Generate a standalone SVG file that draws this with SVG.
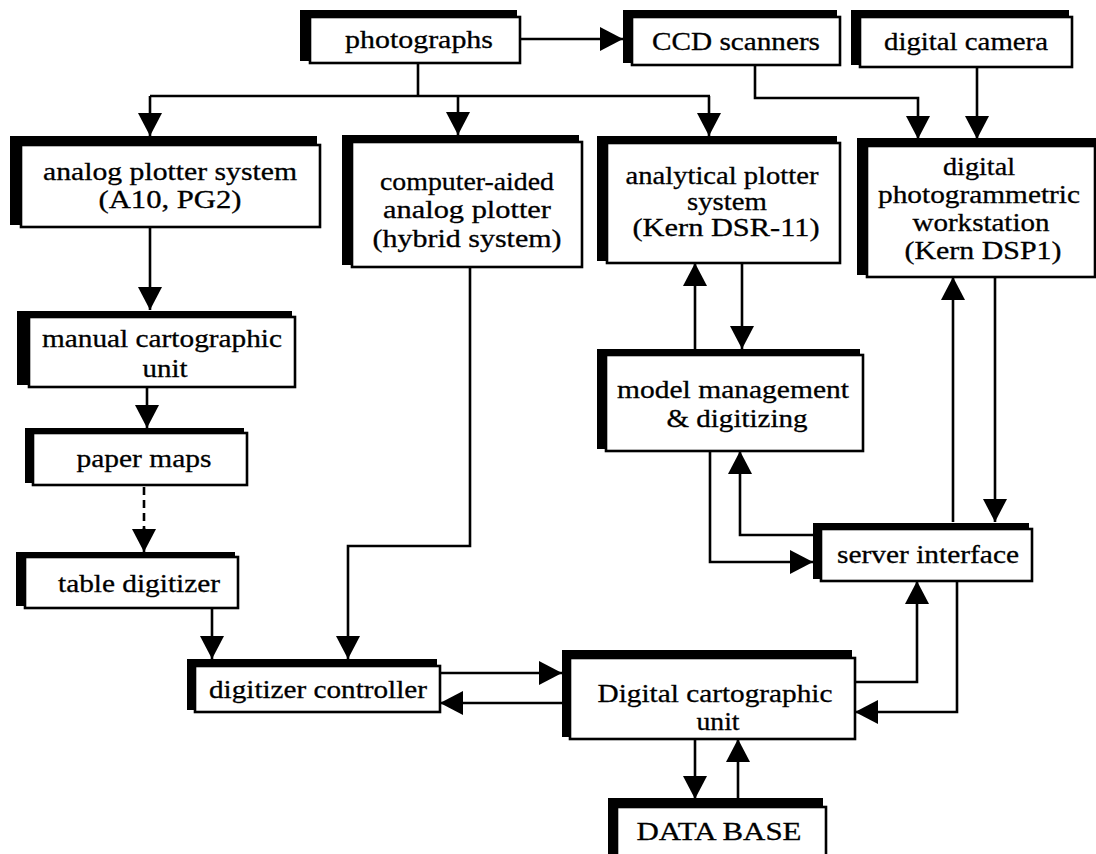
<svg xmlns="http://www.w3.org/2000/svg" width="1096" height="854" viewBox="0 0 1096 854">
  <defs>
    <style>
      .shadow { fill: #000; }
      .box { fill: #fff; stroke: #000; stroke-width: 2.6; }
      .lbl { font-family: "Liberation Serif", "Times New Roman", serif; font-size: 25px; fill: #000; stroke: #000; stroke-width: 0.3; text-anchor: middle; }
      .wire { fill: none; stroke: #000; stroke-width: 2.6; }
      .arrow { marker-end: url(#head); }
      .dash { stroke-dasharray: 8 5; }
    </style>
    <marker id="head" viewBox="0 0 23 24" refX="23" refY="12" markerWidth="23" markerHeight="24" markerUnits="userSpaceOnUse" orient="auto">
      <path d="M0,0 L23,12 L0,24 Z" fill="#000"/>
    </marker>
  </defs>
  <rect width="1096" height="854" fill="#fff"/>

  <!-- connectors -->
  <g id="connectors">
    <path class="wire arrow" d="M520,39 H623"/>
    <path class="wire" d="M418,63 V96 M150,96 H710"/>
    <path class="wire arrow" d="M150,96 V136"/>
    <path class="wire arrow" d="M458,96 V135"/>
    <path class="wire arrow" d="M709,96 V136"/>
    <path class="wire arrow" d="M755,65 V98 H918 V139"/>
    <path class="wire arrow" d="M977,67 V139"/>
    <path class="wire arrow" d="M150,227 V310"/>
    <path class="wire arrow" d="M147,387 V428"/>
    <path class="wire dash" d="M144,487 V530"/>
    <path class="wire arrow" d="M144,528 V552"/>
    <path class="wire arrow" d="M212,608 V659"/>
    <path class="wire arrow" d="M470,267 V546 H348 V659"/>
    <path class="wire arrow" d="M440,673 H562"/>
    <path class="wire arrow" d="M570,703 H440"/>
    <path class="wire arrow" d="M695,349 V263"/>
    <path class="wire arrow" d="M742,263 V349"/>
    <path class="wire arrow" d="M953,522 V277"/>
    <path class="wire arrow" d="M995,277 V522"/>
    <path class="wire arrow" d="M710,451 V562 H813"/>
    <path class="wire arrow" d="M813,535 H740 V451"/>
    <path class="wire arrow" d="M855,682 H917 V581"/>
    <path class="wire arrow" d="M957,581 V712 H855"/>
    <path class="wire arrow" d="M695,739 V799"/>
    <path class="wire arrow" d="M738,799 V739"/>
  </g>

  <g id="photographs">
    <rect class="shadow" x="300" y="10" width="217" height="51"/>
    <rect class="box" x="310" y="17" width="210" height="46"/>
    <text class="lbl" x="419" y="48" textLength="148" lengthAdjust="spacingAndGlyphs">photographs</text>
  </g>
  <g id="ccd-scanners">
    <rect class="shadow" x="623" y="10" width="214" height="53"/>
    <rect class="box" x="632" y="17" width="208" height="48"/>
    <text class="lbl" x="736" y="50" textLength="168" lengthAdjust="spacingAndGlyphs">CCD scanners</text>
  </g>
  <g id="digital-camera">
    <rect class="shadow" x="851" y="10" width="218" height="55"/>
    <rect class="box" x="860" y="17" width="212" height="50"/>
    <text class="lbl" x="966" y="50" textLength="164" lengthAdjust="spacingAndGlyphs">digital camera</text>
  </g>
  <g id="analog-plotter">
    <rect class="shadow" x="10" y="136" width="307" height="89"/>
    <rect class="box" x="21" y="145" width="299" height="82"/>
    <text class="lbl" x="170" y="180" textLength="254" lengthAdjust="spacingAndGlyphs">analog plotter system</text>
    <text class="lbl" x="170" y="208" textLength="143" lengthAdjust="spacingAndGlyphs">(A10, PG2)</text>
  </g>
  <g id="computer-aided">
    <rect class="shadow" x="342" y="135" width="237" height="130"/>
    <rect class="box" x="352" y="142" width="230" height="125"/>
    <text class="lbl" x="467" y="190" textLength="174" lengthAdjust="spacingAndGlyphs">computer-aided</text>
    <text class="lbl" x="467" y="218" textLength="168" lengthAdjust="spacingAndGlyphs">analog plotter</text>
    <text class="lbl" x="467" y="247" textLength="189" lengthAdjust="spacingAndGlyphs">(hybrid system)</text>
  </g>
  <g id="analytical-plotter">
    <rect class="shadow" x="597" y="136" width="240" height="125"/>
    <rect class="box" x="607" y="143" width="233" height="120"/>
    <text class="lbl" x="722" y="184" textLength="193" lengthAdjust="spacingAndGlyphs">analytical plotter</text>
    <text class="lbl" x="727" y="210" textLength="80" lengthAdjust="spacingAndGlyphs">system</text>
    <text class="lbl" x="726" y="236" textLength="187" lengthAdjust="spacingAndGlyphs">(Kern DSR-11)</text>
  </g>
  <g id="photogrammetric-workstation">
    <rect class="shadow" x="857" y="138" width="239" height="137"/>
    <rect class="box" x="867" y="146" width="228" height="131"/>
    <text class="lbl" x="979" y="175" textLength="72" lengthAdjust="spacingAndGlyphs">digital</text>
    <text class="lbl" x="979" y="203" textLength="202" lengthAdjust="spacingAndGlyphs">photogrammetric</text>
    <text class="lbl" x="981" y="231" textLength="137" lengthAdjust="spacingAndGlyphs">workstation</text>
    <text class="lbl" x="983" y="259" textLength="157" lengthAdjust="spacingAndGlyphs">(Kern DSP1)</text>
  </g>
  <g id="manual-cartographic">
    <rect class="shadow" x="17" y="311" width="275" height="74"/>
    <rect class="box" x="29" y="317" width="266" height="70"/>
    <text class="lbl" x="162" y="347" textLength="240" lengthAdjust="spacingAndGlyphs">manual cartographic</text>
    <text class="lbl" x="165" y="377" textLength="45" lengthAdjust="spacingAndGlyphs">unit</text>
  </g>
  <g id="paper-maps">
    <rect class="shadow" x="25" y="428" width="219" height="55"/>
    <rect class="box" x="33" y="433" width="214" height="52"/>
    <text class="lbl" x="144" y="467" textLength="135" lengthAdjust="spacingAndGlyphs">paper maps</text>
  </g>
  <g id="table-digitizer">
    <rect class="shadow" x="16" y="552" width="219" height="54"/>
    <rect class="box" x="25" y="557" width="213" height="51"/>
    <text class="lbl" x="139" y="592" textLength="162" lengthAdjust="spacingAndGlyphs">table digitizer</text>
  </g>
  <g id="model-management">
    <rect class="shadow" x="597" y="349" width="263" height="100"/>
    <rect class="box" x="606" y="355" width="257" height="96"/>
    <text class="lbl" x="733" y="398" textLength="232" lengthAdjust="spacingAndGlyphs">model management</text>
    <text class="lbl" x="737" y="427" textLength="141" lengthAdjust="spacingAndGlyphs">&amp; digitizing</text>
  </g>
  <g id="server-interface">
    <rect class="shadow" x="813" y="523" width="216" height="56"/>
    <rect class="box" x="821" y="529" width="211" height="52"/>
    <text class="lbl" x="928" y="563" textLength="182" lengthAdjust="spacingAndGlyphs">server interface</text>
  </g>
  <g id="digitizer-controller">
    <rect class="shadow" x="187" y="659" width="250" height="51"/>
    <rect class="box" x="195" y="666" width="245" height="46"/>
    <text class="lbl" x="318" y="698" textLength="218" lengthAdjust="spacingAndGlyphs">digitizer controller</text>
  </g>
  <g id="digital-cartographic">
    <rect class="shadow" x="562" y="650" width="290" height="87"/>
    <rect class="box" x="570" y="658" width="285" height="81"/>
    <text class="lbl" x="715" y="702" textLength="235" lengthAdjust="spacingAndGlyphs">Digital cartographic</text>
    <text class="lbl" x="718" y="730" textLength="43" lengthAdjust="spacingAndGlyphs">unit</text>
  </g>
  <g id="data-base">
    <rect class="shadow" x="608" y="798" width="215" height="60"/>
    <rect class="box" x="617" y="807" width="209" height="55"/>
    <text class="lbl" x="719" y="840" textLength="165" lengthAdjust="spacingAndGlyphs">DATA BASE</text>
  </g>
</svg>
